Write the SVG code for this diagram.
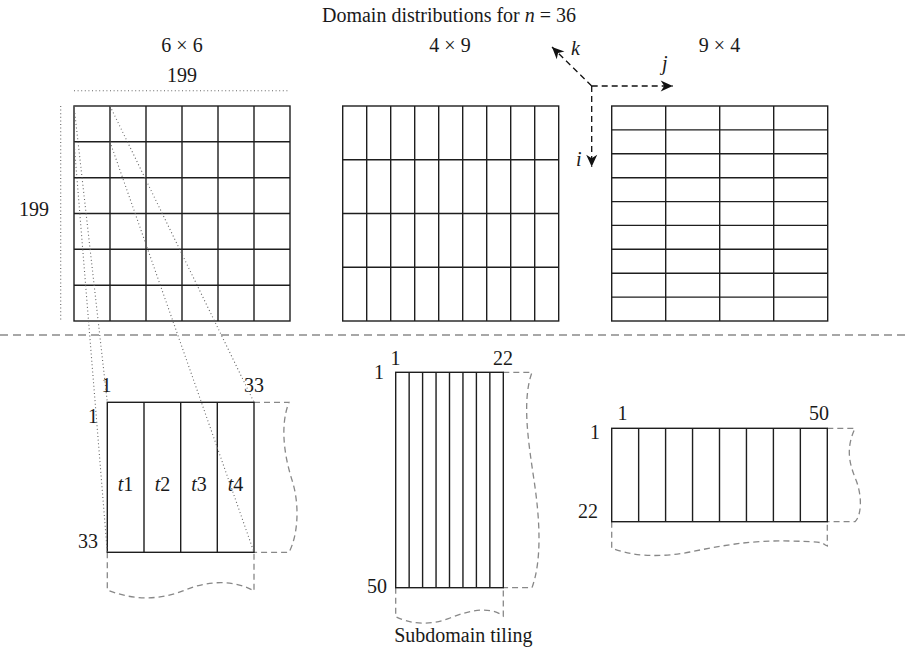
<svg xmlns="http://www.w3.org/2000/svg" width="911" height="659" viewBox="0 0 911 659">
  <style>
    text { font-family: "Liberation Serif", "Times New Roman", serif; font-size: 20px; fill: #1a1a1a; }
    .it { font-style: italic; }
    .mid { text-anchor: middle; }
    .end { text-anchor: end; }
    .grid { fill: none; stroke: #1e1e1e; stroke-width: 1.4; }
    .dash { fill: none; stroke: #888; stroke-width: 1.3; stroke-dasharray: 6 4; }
    .dot { fill: none; stroke: #666; stroke-width: 1.1; stroke-dasharray: 1 2.6; }
    .axis { fill: none; stroke: #111; stroke-width: 1.3; stroke-dasharray: 6 4; }
    .sep { fill: none; stroke: #8a8a8a; stroke-width: 1.6; stroke-dasharray: 8 5; }
  </style>
  <defs>
    <marker id="arr" viewBox="-13 -7 14 14" refX="0" refY="0" markerWidth="14" markerHeight="14" markerUnits="userSpaceOnUse" orient="auto">
      <path d="M0,0 L-12,-5.5 L-8.5,0 L-12,5.5 Z" fill="#111"/>
    </marker>
  </defs>

  <text id="title" class="mid" x="449" y="22">Domain distributions for <tspan class="it">n</tspan> = 36</text>

  <g id="grid-6x6">
    <text class="mid" x="182" y="52">6 × 6</text>
    <text class="mid" x="182" y="82">199</text>
    <text class="mid" x="34" y="216">199</text>
    <path class="dot" d="M74,90.7 H290 M60.7,106 V321"/>
    <rect class="grid" x="74" y="106" width="216" height="215"/>
    <path class="grid" d="M110,106 V321 M146,106 V321 M182,106 V321 M218,106 V321 M254,106 V321 M74,141.8 H290 M74,177.7 H290 M74,213.5 H290 M74,249.3 H290 M74,285.2 H290"/>
  </g>

  <g id="grid-4x9">
    <text class="mid" x="450" y="52">4 × 9</text>
    <rect class="grid" x="342.7" y="106" width="216" height="215"/>
    <path class="grid" d="M366.7,106 V321 M390.7,106 V321 M414.7,106 V321 M438.7,106 V321 M462.7,106 V321 M486.7,106 V321 M510.7,106 V321 M534.7,106 V321 M342.7,159.75 H558.7 M342.7,213.5 H558.7 M342.7,267.25 H558.7"/>
  </g>

  <g id="grid-9x4">
    <text class="mid" x="719.5" y="52">9 × 4</text>
    <rect class="grid" x="611.7" y="106" width="216" height="215"/>
    <path class="grid" d="M665.7,106 V321 M719.7,106 V321 M773.7,106 V321 M611.7,129.9 H827.7 M611.7,153.8 H827.7 M611.7,177.7 H827.7 M611.7,201.6 H827.7 M611.7,225.4 H827.7 M611.7,249.3 H827.7 M611.7,273.2 H827.7 M611.7,297.1 H827.7"/>
  </g>

  <g id="axes">
    <path class="axis" d="M591.7,86 L552,47" marker-end="url(#arr)"/>
    <path class="axis" d="M591.7,86 H672.7" marker-end="url(#arr)"/>
    <path class="axis" d="M591.7,86 V166.7" marker-end="url(#arr)"/>
    <text class="it" x="571" y="55">k</text>
    <text class="it" x="662" y="70">j</text>
    <text class="it" x="576" y="166">i</text>
  </g>

  <g id="separator">
    <path class="sep" d="M0,335 H908"/>
  </g>

  <g id="sub-6x6">
    <path class="dash" d="M254,402.3 H289 C 280,425 284,455 292,480 S 298,535 289,552.3 H254"/>
    <path class="dash" d="M107.3,552.3 V590 C 135,601 160,600 185,590 S 235,580 254,591 V552.3"/>
    <rect class="grid" x="107.3" y="402.3" width="146.7" height="150"/>
    <path class="grid" d="M144,402.3 V552.3 M180.7,402.3 V552.3 M217.3,402.3 V552.3"/>
    <text class="mid" x="106.5" y="392">1</text>
    <text class="mid" x="254" y="392">33</text>
    <text class="end" x="98" y="423">1</text>
    <text class="end" x="98" y="548">33</text>
    <text class="mid" x="125.5" y="491"><tspan class="it">t</tspan>1</text>
    <text class="mid" x="162.5" y="491"><tspan class="it">t</tspan>2</text>
    <text class="mid" x="199" y="491"><tspan class="it">t</tspan>3</text>
    <text class="mid" x="235.5" y="491"><tspan class="it">t</tspan>4</text>
  </g>

  <g id="sub-4x9">
    <path class="dash" d="M503.3,372.3 H532 C 522,400 528,440 534,480 S 542,560 532,587.7 H503.3"/>
    <path class="dash" d="M395.7,587.7 V616.7 C 410,624 430,626 450,618 S 490,606 503.3,616 V587.7"/>
    <rect class="grid" x="395.7" y="372.3" width="107.6" height="215.4"/>
    <path class="grid" d="M409.15,372.3 V587.7 M422.6,372.3 V587.7 M436.05,372.3 V587.7 M449.5,372.3 V587.7 M462.95,372.3 V587.7 M476.4,372.3 V587.7 M489.85,372.3 V587.7"/>
    <text class="mid" x="395.5" y="365">1</text>
    <text class="mid" x="503" y="365">22</text>
    <text class="end" x="384" y="379">1</text>
    <text class="end" x="387" y="593">50</text>
    <text class="mid" x="463.3" y="642">Subdomain tiling</text>
  </g>

  <g id="sub-9x4">
    <path class="dash" d="M827.3,428.3 H855 C 845,450 850,465 856,480 S 862,515 855,521.7 H827.3"/>
    <path class="dash" d="M611.7,521.7 V548 C 630,556 660,558 690,552 S 750,540 790,541 S 820,543 827.3,546 V521.7"/>
    <rect class="grid" x="611.7" y="428.3" width="215.6" height="93.4"/>
    <path class="grid" d="M638.65,428.3 V521.7 M665.6,428.3 V521.7 M692.55,428.3 V521.7 M719.5,428.3 V521.7 M746.45,428.3 V521.7 M773.4,428.3 V521.7 M800.35,428.3 V521.7"/>
    <text class="mid" x="622.5" y="420">1</text>
    <text class="mid" x="819" y="420">50</text>
    <text class="end" x="600" y="439">1</text>
    <text class="end" x="598" y="518">22</text>
  </g>

  <g id="connectors">
    <path class="dot" d="M74,106 L107.3,402.3"/>
    <path class="dot" d="M74,141.8 L107.3,552.3"/>
    <path class="dot" d="M110,106 L254,402.3"/>
    <path class="dot" d="M110,141.8 L254,552.3"/>
  </g>
</svg>
